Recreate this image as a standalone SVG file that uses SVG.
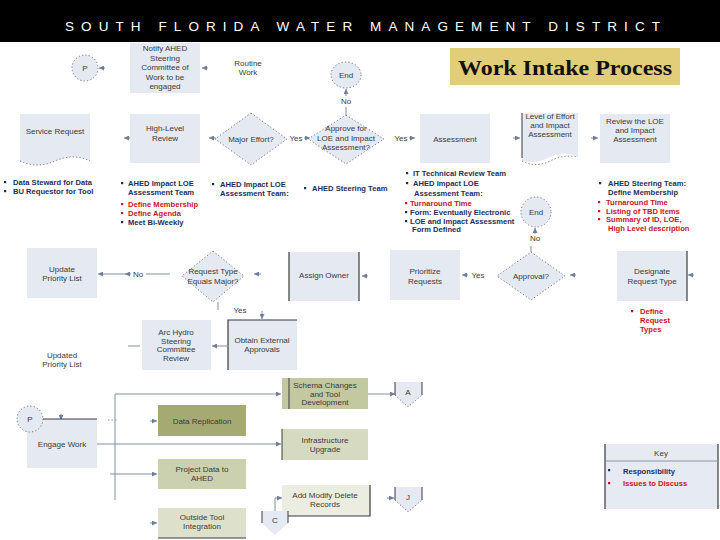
<svg xmlns="http://www.w3.org/2000/svg" xmlns:xlink="http://www.w3.org/1999/xlink" width="720" height="540" viewBox="0 0 720 540">
<defs>
<marker id="ah" viewBox="0 0 6 6" refX="6" refY="3" markerWidth="5" markerHeight="5" orient="auto" markerUnits="userSpaceOnUse"><path d="M0,0 L6,3 L0,6 Z" fill="#6E7F99"/></marker>
<rect id="bn" width="2.2" height="2.2" fill="#1D2E5C"/>
<rect id="br" width="2.2" height="2.2" fill="#C8141E"/>
</defs>
<style>
.bx{fill:#E4E9F2;stroke:none}
.dm{fill:#E4E9F2;stroke:#555;stroke-width:0.8;stroke-dasharray:1.2 2.2}
.edge{stroke:#3A3A3A;stroke-width:1.2;fill:none}
.t{font-family:"Liberation Sans",Arial,sans-serif;font-size:8px;fill:#3A3A3A;text-anchor:middle}
.b{font-family:"Liberation Sans",Arial,sans-serif;font-size:7.6px;font-weight:bold;fill:#1D2E5C}
.r{fill:#C8141E}
.c{stroke:#7F8FA6;stroke-width:1;fill:none}
.a{stroke:#7F8FA6;stroke-width:1;fill:none;marker-end:url(#ah)}
</style>
<rect x="0" y="0" width="720" height="540" fill="#FFFFFF"/>
<g id="header">
<rect x="0" y="0" width="720" height="42" fill="#000"/>
<text x="65" y="31" font-family="'Liberation Sans',Arial,sans-serif" font-size="13.5" fill="#FFF" textLength="595" lengthAdjust="spacing">SOUTH FLORIDA WATER MANAGEMENT DISTRICT</text>
</g>
<g id="title">
<rect x="450" y="48" width="230" height="37" fill="#E2CE78"/>
<text x="565" y="75" font-family="'Liberation Serif','Times New Roman',serif" font-size="20" font-weight="bold" fill="#111" text-anchor="middle" textLength="214" lengthAdjust="spacingAndGlyphs">Work Intake Process</text>
</g>

<g id="connectors">
<line class="a" x1="105" y1="68" x2="99" y2="68"/>
<line class="a" x1="208" y1="68" x2="202" y2="68"/>
<line class="c" x1="346" y1="115" x2="346" y2="107"/>
<line class="a" x1="346" y1="96" x2="346" y2="89"/>
<line class="a" x1="131" y1="138" x2="124" y2="138"/>
<line class="a" x1="216" y1="138" x2="209" y2="138"/>
<line class="a" x1="304" y1="138" x2="310" y2="138"/>
<line class="a" x1="409" y1="138" x2="415" y2="138"/>
<line class="a" x1="513" y1="138" x2="520" y2="138"/>
<line class="a" x1="591" y1="138" x2="598" y2="138"/>
<line class="a" x1="535" y1="234" x2="535" y2="228"/>
<line class="c" x1="531" y1="252" x2="531" y2="246"/>
<line class="c" x1="170" y1="274" x2="146" y2="274"/>
<line class="a" x1="131" y1="274" x2="125" y2="274"/>
<line class="a" x1="126" y1="274" x2="98" y2="274"/>
<line class="a" x1="261" y1="274" x2="254" y2="274"/>
<line class="a" x1="368" y1="276" x2="362" y2="276"/>
<line class="a" x1="468" y1="275" x2="462" y2="275"/>
<line class="a" x1="576" y1="275" x2="570" y2="275"/>
<line class="a" x1="694" y1="275" x2="688" y2="275"/>
<line class="c" x1="218" y1="302" x2="218" y2="310"/>
<line class="a" x1="262" y1="311" x2="262" y2="319"/>
<line class="a" x1="227" y1="346" x2="212" y2="346"/>
<line class="c" x1="128" y1="346" x2="140" y2="346"/>
<line class="c" x1="115" y1="394" x2="115" y2="500"/>
<line class="a" x1="115" y1="394" x2="281" y2="394"/>
<line class="a" x1="97" y1="444" x2="281" y2="444"/>
<line class="c" x1="108" y1="420" x2="118" y2="420" stroke-dasharray="1.5 2"/>
<line class="a" x1="150" y1="421" x2="157" y2="421"/>
<line class="a" x1="110" y1="474" x2="157" y2="474"/>
<line class="a" x1="150" y1="523" x2="157" y2="523"/>
<line class="a" x1="368" y1="394" x2="395" y2="394"/>
<line class="a" x1="387" y1="498" x2="394" y2="498"/>
<polyline class="a" points="275,511 275,498 282,498"/>
<line class="a" x1="61" y1="414" x2="61" y2="420"/>
</g>

<g id="p-top"><circle class="dm" cx="85" cy="68" r="13"/><text class="t" x="85" y="71">P</text></g>
<g id="notify"><rect class="bx" x="130" y="43" width="70" height="50"/>
<text class="t" x="165" y="51">Notify AHED</text><text class="t" x="165" y="60.5">Steering</text><text class="t" x="165" y="70">Committee of</text><text class="t" x="165" y="79.5">Work to be</text><text class="t" x="165" y="89">engaged</text></g>
<g id="routine"><text class="t" x="248" y="66">Routine</text><text class="t" x="248" y="75">Work</text></g>
<g id="end-top"><ellipse class="dm" cx="346" cy="75" rx="15" ry="13"/><text class="t" x="346" y="78">End</text></g>
<g id="no-top"><text class="t" x="346" y="104">No</text></g>

<g id="service-request"><path class="bx" d="M20,114 H90 V161 Q72,153 55,161 T20,161 Z"/><path d="M20,161 Q37,169 55,161 T90,161" fill="none" stroke="#555" stroke-width="0.8" stroke-dasharray="1.2 2.2"/><text class="t" x="55" y="134">Service Request</text></g>
<g id="high-level"><rect class="bx" x="130" y="114" width="70" height="49"/><text class="t" x="165" y="131">High-Level</text><text class="t" x="165" y="141">Review</text></g>
<g id="major-effort"><polygon class="dm" points="251,113 287,139 251,165 215,139"/><text class="t" x="251" y="142">Major Effort?</text></g>
<g id="yes1"><text class="t" x="296" y="141">Yes</text></g>
<g id="approve"><polygon class="dm" points="346,115 384,139 346,164 308,139"/><text class="t" x="346" y="131">Approve for</text><text class="t" x="346" y="141">LOE and Impact</text><text class="t" x="346" y="150">Assessment?</text></g>
<g id="yes2"><text class="t" x="401" y="141">Yes</text></g>
<g id="assessment"><rect class="bx" x="420" y="114" width="70" height="49"/><text class="t" x="455" y="142">Assessment</text></g>
<g id="loe-doc"><path class="bx" d="M522,113 H578 V157 Q564,150 550,157 T522,161 Z"/><line x1="522" y1="113" x2="522" y2="158" stroke="#3A3A3A" stroke-width="1"/><path d="M522,161 Q536,168 550,161 T578,157" fill="none" stroke="#555" stroke-width="0.8" stroke-dasharray="1.2 2.2"/><text class="t" x="550" y="119">Level of Effort</text><text class="t" x="550" y="128">and Impact</text><text class="t" x="550" y="137">Assessment</text></g>
<g id="review-loe"><rect class="bx" x="600" y="114" width="70" height="49"/><text class="t" x="635" y="124">Review the LOE</text><text class="t" x="635" y="133">and Impact</text><text class="t" x="635" y="142">Assessment</text></g>

<g id="notes-1"><use href="#bn" x="4" y="181"/><use href="#bn" x="4" y="190"/>
<text class="b" x="13" y="184.5">Data Steward for Data</text><text class="b" x="13" y="193.5">BU Requestor for Tool</text></g>
<g id="notes-2"><use href="#bn" x="121" y="182"/><use href="#br" x="121" y="203"/><use href="#br" x="121" y="212"/><use href="#bn" x="121" y="221"/>
<text class="b" x="128" y="185.5">AHED Impact LOE</text><text class="b" x="128" y="194.5">Assessment Team</text><text class="b r" x="128" y="206.5">Define Membership</text><text class="b r" x="128" y="215.5">Define Agenda</text><text class="b" x="128" y="224.5">Meet Bi-Weekly</text></g>
<g id="notes-3"><use href="#bn" x="212" y="183"/><text class="b" x="220" y="186.5">AHED Impact LOE</text><text class="b" x="220" y="195.5">Assessment Team:</text></g>
<g id="notes-4"><use href="#bn" x="304" y="187"/><text class="b" x="312" y="190.5">AHED Steering Team</text></g>
<g id="notes-5"><use href="#bn" x="406" y="172"/><use href="#bn" x="406" y="182"/><use href="#br" x="405" y="202"/><use href="#bn" x="405" y="211"/><use href="#bn" x="405" y="220"/>
<text class="b" x="413" y="175.5">IT Technical Review Team</text><text class="b" x="413" y="185.5">AHED Impact LOE</text><text class="b" x="414" y="195.5">Assessment Team:</text><text class="b r" x="410" y="205.5">Turnaround Time</text><text class="b" x="410" y="214.5">Form: Eventually Electronic</text><text class="b" x="410" y="223.5">LOE and Impact Assessment</text><text class="b" x="412" y="232">Form Defined</text></g>
<g id="end-mid"><circle class="dm" cx="536" cy="212" r="15"/><text class="t" x="536" y="215">End</text></g>
<g id="no-mid"><text class="t" x="535" y="241">No</text></g>
<g id="notes-6"><use href="#bn" x="599" y="182"/><use href="#br" x="598" y="201"/><use href="#br" x="598" y="210"/><use href="#br" x="598" y="218"/>
<text class="b" x="608" y="185.5">AHED Steering Team:</text><text class="b" x="608" y="194.5">Define Membership</text><text class="b r" x="606" y="204.5">Turnaround Time</text><text class="b r" x="606" y="213.5">Listing of TBD Items</text><text class="b r" x="606" y="221.5">Summary of ID, LOE,</text><text class="b r" x="608" y="230.5">High Level description</text></g>

<g id="update-priority"><rect class="bx" x="27" y="248" width="70" height="50"/><text class="t" x="62" y="272">Update</text><text class="t" x="62" y="281">Priority List</text></g>
<g id="no-left"><text class="t" x="138" y="277">No</text></g>
<g id="request-type"><polygon class="dm" points="213,251 244,276 213,302 182,276"/><text class="t" x="213" y="274">Request Type</text><text class="t" x="213" y="284">Equals Major?</text></g>
<g id="assign-owner"><rect class="bx" x="289" y="252" width="70" height="49"/><line class="edge" x1="289" y1="252" x2="289" y2="301"/><line class="edge" x1="359" y1="252" x2="359" y2="301"/><text class="t" x="324" y="278">Assign Owner</text></g>
<g id="prioritize"><rect class="bx" x="390" y="250" width="70" height="50"/><text class="t" x="425" y="274">Prioritize</text><text class="t" x="425" y="284">Requests</text></g>
<g id="yes3"><text class="t" x="478" y="278">Yes</text></g>
<g id="approval"><polygon class="dm" points="531,252 565,276 531,300 497,276"/><text class="t" x="531" y="279">Approval?</text></g>
<g id="designate"><rect class="bx" x="617" y="251" width="70" height="50"/><line class="edge" x1="687" y1="251" x2="687" y2="301"/><text class="t" x="652" y="274">Designate</text><text class="t" x="652" y="284">Request Type</text></g>
<g id="notes-7"><use href="#br" x="631" y="310"/><text class="b r" x="640" y="314">Define</text><text class="b r" x="640" y="322.5">Request</text><text class="b r" x="640" y="331.5">Types</text></g>

<g id="yes4"><text class="t" x="240" y="313">Yes</text></g>
<g id="arc-hydro"><rect class="bx" x="142" y="320" width="69" height="50"/><text class="t" x="176" y="335">Arc Hydro</text><text class="t" x="176" y="343.5">Steering</text><text class="t" x="176" y="352">Committee</text><text class="t" x="176" y="360.5">Review</text></g>
<g id="obtain"><rect class="bx" x="228" y="320" width="69" height="50"/><polyline class="edge" points="228,370 228,320 297,320"/><text class="t" x="262" y="343">Obtain External</text><text class="t" x="262" y="352">Approvals</text></g>
<g id="updated-list"><text class="t" x="62" y="358">Updated</text><text class="t" x="62" y="367">Priority List</text></g>

<g id="engage"><rect class="bx" x="27" y="419" width="70" height="49"/><line class="edge" x1="40" y1="419" x2="97" y2="419"/><text class="t" x="62" y="447">Engage Work</text></g>
<g id="p-bottom"><circle class="dm" cx="30" cy="419" r="13"/><text class="t" x="30" y="422">P</text></g>
<g id="schema"><rect x="282" y="378" width="86" height="31" fill="#C3C8A0"/><line x1="289" y1="378" x2="289" y2="409" stroke="#3A3A3A" stroke-width="1"/><text class="t" x="325" y="388">Schema Changes</text><text class="t" x="325" y="396.5">and Tool</text><text class="t" x="325" y="405">Development</text></g>
<g id="data-replication"><rect x="158" y="405" width="88" height="31" fill="#A4AA72"/><text class="t" x="202" y="424">Data Replication</text></g>
<g id="infrastructure"><rect x="282" y="429" width="86" height="31" fill="#D6DAC0"/><line x1="282" y1="429" x2="282" y2="460" stroke="#3A3A3A" stroke-width="1"/><text class="t" x="325" y="443">Infrastructure</text><text class="t" x="325" y="452">Upgrade</text></g>
<g id="project-data"><rect x="158" y="459" width="88" height="30" fill="#CBD0AE"/><text class="t" x="202" y="472">Project Data to</text><text class="t" x="202" y="481">AHED</text></g>
<g id="add-modify"><rect x="282" y="485" width="88" height="31" fill="#EBEDE0"/><polyline class="edge" points="288,516 370,516 370,485" stroke-width="1"/><text class="t" x="325" y="498">Add Modify Delete</text><text class="t" x="325" y="507">Records</text></g>
<g id="outside-tool"><rect x="158" y="508" width="88" height="30" fill="#DDE1CB"/><line x1="158" y1="538" x2="246" y2="538" stroke="#3A3A3A" stroke-width="1"/><text class="t" x="202" y="520">Outside Tool</text><text class="t" x="202" y="529">Integration</text></g>
<g id="conn-a"><polygon points="395,382 422,382 422,395 408,407 395,395" fill="#E4E9F2"/><polyline points="395,395 395,382" stroke="#3A3A3A" fill="none"/><polyline points="422,382 422,395" stroke="#3A3A3A" fill="none"/><path d="M395,395 L408,407 L422,395" class="dm" fill="none"/><text class="t" x="408" y="395">A</text></g>
<g id="conn-j"><polygon points="395,487 422,487 422,500 408,512 395,500" fill="#E4E9F2"/><polyline points="395,500 395,487" stroke="#3A3A3A" fill="none"/><polyline points="422,487 422,500" stroke="#3A3A3A" fill="none"/><path d="M395,500 L408,512 L422,500" class="dm" fill="none"/><text class="t" x="408" y="500">J</text></g>
<g id="conn-c"><polygon points="262,511 288,511 288,523 275,535 262,523" fill="#E4E9F2"/><polyline points="262,523 262,511" stroke="#3A3A3A" fill="none"/><polyline points="288,511 288,523" stroke="#3A3A3A" fill="none"/><text class="t" x="275" y="523">C</text></g>

<g id="key"><rect x="605" y="444" width="113" height="65" fill="#E6EBF3"/><line class="edge" x1="605" y1="444" x2="605" y2="509" stroke="#555" stroke-width="1"/><line class="edge" x1="718" y1="444" x2="718" y2="509" stroke="#555" stroke-width="1"/><line x1="605" y1="461" x2="718" y2="461" stroke="#8A96A8" stroke-width="1"/>
<text class="t" x="661" y="456">Key</text><use href="#bn" x="608" y="469"/><use href="#br" x="608" y="482"/><text class="b" x="623" y="473.5">Responsibility</text><text class="b r" x="623" y="486">Issues to Discuss</text></g>
</svg>
